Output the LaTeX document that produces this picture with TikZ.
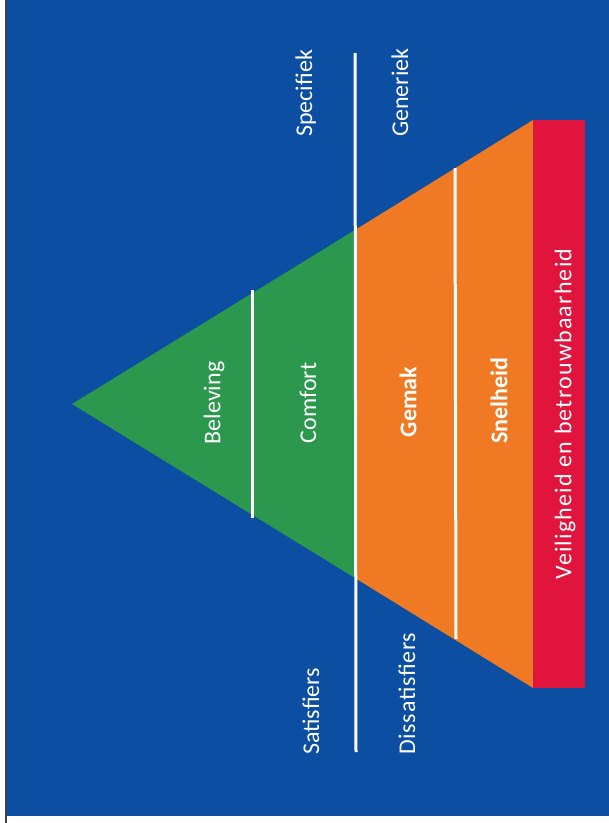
\documentclass[tikz,border=0pt]{standalone}
\usepackage{fontspec}
\setmainfont{Carlito}
\definecolor{bgblue}{RGB}{11,78,162}
\definecolor{pgreen}{RGB}{44,152,78}
\definecolor{porange}{RGB}{240,121,35}
\definecolor{pred}{RGB}{224,20,60}
\begin{document}
\begin{tikzpicture}[x=1pt,y=-1pt,
  lbl/.style={text=white,font=\fontsize{24}{28}\selectfont,rotate=90,inner sep=0pt},
  sep/.style={draw=white,line width=3pt}]
\useasboundingbox (0,0) rectangle (609,823);
\fill[white] (0,0) rectangle (609,823);
\fill[bgblue] (7,0) rectangle (609,816);
\draw[black!75,line width=1.5pt] (6,0) -- (6,823);
% pyramid
\coordinate (apex) at (72,404);
\coordinate (gt) at (355,230);
\coordinate (gb) at (355,578);
\coordinate (ot) at (533,120);
\coordinate (ob) at (533,688);
\fill[pgreen] (apex) -- (gt) -- (gb) -- cycle;
\fill[porange] (gt) -- (ot) -- (ob) -- (gb) -- cycle;
\fill[pred] (533,120) rectangle (585,688);
% separator lines
\coordinate (m1) at (355,53);
\coordinate (m2) at (356,752);
\coordinate (a1) at (252,290);
\coordinate (a2) at (252,518);
\coordinate (b1) at (455,168);
\coordinate (b2) at (456,639);
\draw[sep] (m1) -- (m2);
\draw[sep] (a1) -- (a2);
\draw[sep] (b1) -- (b2);
% labels
\node[lbl] (bel) at (214,403) {Beleving};
\node[lbl] (com) at (308,403) {Comfort};
\node[lbl,font=\fontsize{24}{28}\selectfont\bfseries] (gem) at (408,402) {Gemak};
\node[lbl,font=\fontsize{24}{28}\selectfont\bfseries] (sne) at (499,401) {Snelheid};
\node[lbl,font=\fontsize{24}{28}\selectfont\addfontfeature{LetterSpace=5}] (vei) at (565,414) {Veiligheid en betrouwbaarheid};
\node[lbl,anchor=base west] (spe) at (312,137) {Specifiek};
\node[lbl,anchor=base west] (gen) at (408,137) {Generiek};
\node[lbl,anchor=base west] (sat) at (319,755) {Satisfiers};
\node[lbl,anchor=base west,font=\fontsize{24}{28}\selectfont\addfontfeature{LetterSpace=3}] (dis) at (415,755) {Dissatisfiers};
\end{tikzpicture}
\end{document}
